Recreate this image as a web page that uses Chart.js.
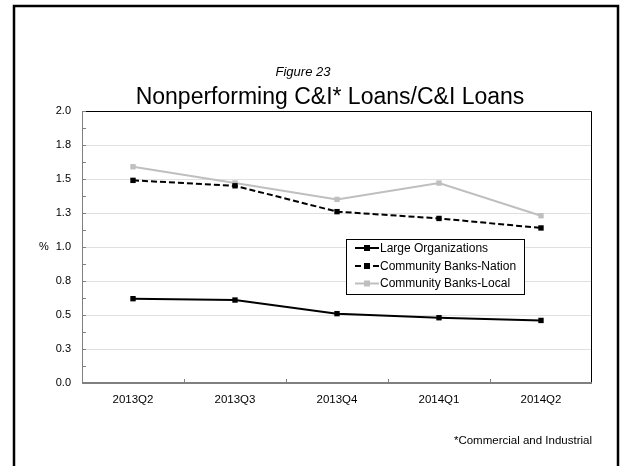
<!DOCTYPE html>
<html>
<head>
<meta charset="utf-8">
<script src="https://cdn.jsdelivr.net/npm/chart.js@4/dist/chart.umd.min.js"></script>
<style>
  html, body { margin: 0; padding: 0; background: #fff; }
  #wrap { position: relative; width: 631px; height: 466px; }
</style>
</head>
<body>
<div id="wrap"><canvas id="c" width="631" height="466"></canvas></div>
<script>
// Quarterly nonperforming C&I loan ratios (%)
const categories = ['2013Q2', '2013Q3', '2013Q4', '2014Q1', '2014Q2'];
const largeOrgs = [0.62, 0.61, 0.51, 0.48, 0.46];
const cbNation  = [1.49, 1.45, 1.26, 1.21, 1.14];
const cbLocal   = [1.59, 1.47, 1.35, 1.47, 1.23];
const yTickLabels = ['0.0', '0.3', '0.5', '0.8', '1.0', '1.3', '1.5', '1.8', '2.0'];
const seriesNames = ['Large Organizations', 'Community Banks-Nation', 'Community Banks-Local'];

const FONT = 'Liberation Sans, Arial, Helvetica, sans-serif';

// Frame, plot-area border, inside tick marks, titles, legend and footnote
const decor = {
  id: 'decor',
  beforeDatasetsDraw(chart) {
    const { ctx, chartArea: a, scales: { x, y } } = chart;
    ctx.save();
    // plot area border
    ctx.strokeStyle = '#000';
    ctx.lineWidth = 1;
    ctx.beginPath();
    ctx.moveTo(a.left, a.top + 0.5);
    ctx.lineTo(a.right - 0.5, a.top + 0.5);
    ctx.lineTo(a.right - 0.5, a.bottom);
    ctx.stroke();
    // axes
    ctx.strokeStyle = '#808080';
    ctx.lineWidth = 1;
    ctx.beginPath();
    ctx.moveTo(a.left + 0.5, a.top);
    ctx.lineTo(a.left + 0.5, a.bottom);
    ctx.stroke();
    ctx.lineWidth = 2;
    ctx.beginPath();
    ctx.moveTo(a.left, a.bottom);
    ctx.lineTo(a.right, a.bottom);
    ctx.stroke();
    // inside tick marks on y (every 0.125)
    ctx.lineWidth = 1;
    ctx.beginPath();
    for (let v = 0; v <= 2.0001; v += 0.125) {
      const py = Math.round(y.getPixelForValue(v)) + 0.5;
      ctx.moveTo(a.left, py);
      ctx.lineTo(a.left + 4, py);
    }
    // inside tick marks on x at category boundaries
    for (let i = 1; i < categories.length; i++) {
      const px = Math.round((x.getPixelForValue(i - 1) + x.getPixelForValue(i)) / 2) + 0.5;
      ctx.moveTo(px, a.bottom);
      ctx.lineTo(px, a.bottom - 4);
    }
    ctx.stroke();
    ctx.restore();
  },
  afterDraw(chart) {
    const { ctx, scales: { y } } = chart;
    ctx.save();
    // outer frame
    ctx.strokeStyle = '#000';
    ctx.lineWidth = 2.5;
    ctx.beginPath();
    ctx.moveTo(14, 466);
    ctx.lineTo(14, 6);
    ctx.lineTo(618, 6);
    ctx.lineTo(618, 466);
    ctx.stroke();

    // titles
    ctx.fillStyle = '#000';
    ctx.textAlign = 'center';
    ctx.textBaseline = 'middle';
    ctx.font = 'italic 13px ' + FONT;
    ctx.fillText('Figure 23', 303, 72);
    ctx.font = '23px ' + FONT;
    ctx.fillText('Nonperforming C&I* Loans/C&I Loans', 330, 98);

    // y unit
    ctx.font = '11px ' + FONT;
    ctx.fillText('%', 44, y.getPixelForValue(1.0));

    // footnote
    ctx.textAlign = 'right';
    ctx.font = '11.5px ' + FONT;
    ctx.fillText('*Commercial and Industrial', 592, 441);

    // legend
    const lx = 346, ly = 239, lw = 178, lh = 55;
    ctx.fillStyle = '#fff';
    ctx.fillRect(lx, ly, lw, lh);
    ctx.strokeStyle = '#000';
    ctx.lineWidth = 1;
    ctx.strokeRect(lx + 0.5, ly + 0.5, lw, lh);
    const rows = [248, 266, 283.5];
    chart.data.datasets.forEach((ds, i) => {
      const ry = rows[i];
      ctx.strokeStyle = ds.borderColor;
      ctx.lineWidth = ds.borderWidth;
      ctx.setLineDash(ds.borderDash || []);
      ctx.beginPath();
      ctx.moveTo(355, ry);
      ctx.lineTo(379, ry);
      ctx.stroke();
      ctx.setLineDash([]);
      ctx.fillStyle = ds.pointBackgroundColor;
      ctx.fillRect(364, ry - 3, 6, 6);
      ctx.fillStyle = '#000';
      ctx.textAlign = 'left';
      ctx.font = '12px ' + FONT;
      ctx.fillText(ds.label, 380, ry + 0.5);
    });
    ctx.restore();
  }
};

new Chart(document.getElementById('c'), {
  type: 'line',
  data: {
    labels: categories,
    datasets: [
      {
        label: seriesNames[0], data: largeOrgs,
        borderColor: '#000', pointBackgroundColor: '#000', pointBorderColor: '#000',
        borderWidth: 2, pointStyle: 'rect', pointRadius: 3.8, pointBorderWidth: 0
      },
      {
        label: seriesNames[1], data: cbNation,
        borderColor: '#000', pointBackgroundColor: '#000', pointBorderColor: '#000',
        borderWidth: 2, borderDash: [6, 3], pointStyle: 'rect', pointRadius: 3.8, pointBorderWidth: 0
      },
      {
        label: seriesNames[2], data: cbLocal,
        borderColor: '#bfbfbf', pointBackgroundColor: '#bfbfbf', pointBorderColor: '#bfbfbf',
        borderWidth: 2, pointStyle: 'rect', pointRadius: 3.8, pointBorderWidth: 0
      }
    ]
  },
  options: {
    responsive: false,
    animation: false,
    layout: { padding: { left: 20, right: 39, top: 111, bottom: 0 } },
    plugins: {
      legend: { display: false },
      title: { display: false },
      tooltip: { enabled: false }
    },
    scales: {
      x: {
        offset: true,
        grid: { display: false, drawTicks: false },
        border: { display: false },
        ticks: { color: '#000', font: { family: FONT, size: 11.5 }, padding: 10 },
        afterFit(scale) { scale.height = 83; }
      },
      y: {
        min: 0, max: 2,
        grid: { color: '#e0e0e0', drawTicks: false, lineWidth: 1 },
        border: { display: false },
        ticks: {
          stepSize: 0.25,
          color: '#000',
          font: { family: FONT, size: 11 },
          padding: 11,
          callback: (v, i) => yTickLabels[i]
        },
        afterFit(scale) { scale.width = 62; }
      }
    }
  },
  plugins: [decor]
});
</script>
</body>
</html>
